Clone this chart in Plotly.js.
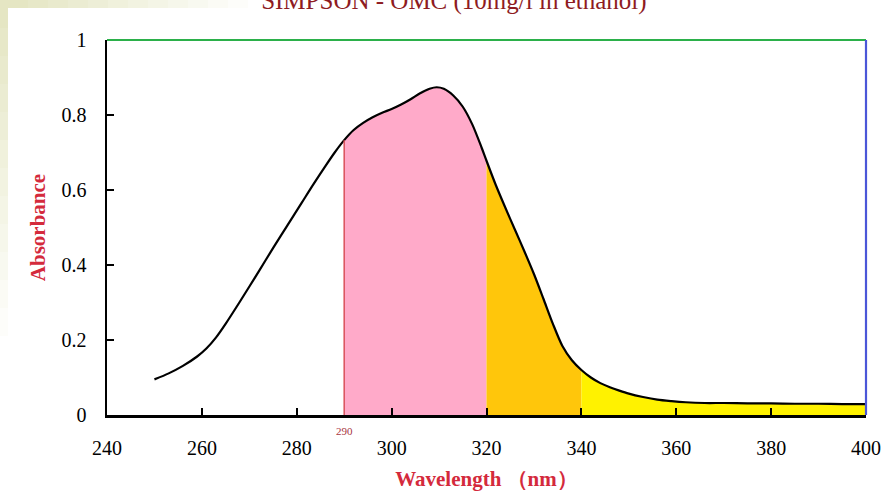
<!DOCTYPE html>
<html>
<head>
<meta charset="utf-8">
<script src="https://cdn.plot.ly/plotly-3.0.1.min.js"></script>
<style>html,body{margin:0;padding:0;background:#fff;}#chart{width:889px;height:491px;}</style>
</head>
<body>
<div id="chart"></div>
<script>
// Data
const wavelength = [250,253,256,259,261,263,265,268,272,275,278,281,283.5,286,288,290,292,294,296,298,300,302,304,306,308,309.5,311,313,315,317,319,320,322,324,326,328,330,332,334,336,338,340,342,344,346,348,350,353,356,359,362,366,370,375,380,385,390,395,400];
const absorbance = [0.095,0.111,0.131,0.156,0.178,0.207,0.243,0.302,0.383,0.445,0.505,0.565,0.615,0.663,0.7,0.733,0.76,0.779,0.794,0.806,0.816,0.828,0.842,0.858,0.87,0.874,0.87,0.852,0.822,0.775,0.712,0.678,0.612,0.552,0.494,0.436,0.376,0.31,0.243,0.184,0.146,0.12,0.1,0.085,0.074,0.065,0.057,0.048,0.041,0.037,0.034,0.032,0.032,0.031,0.031,0.03,0.03,0.029,0.029];
const bands = [
  {from: 290, to: 320, color: '#FFAAC9'},
  {from: 320, to: 340, color: '#FFC60B'},
  {from: 340, to: 400, color: '#FFF200'}
];
const xTicks = [240,260,280,300,320,340,360,380,400];
const yTicks = [0,0.2,0.4,0.6,0.8,1];
const yTickText = ['0','0.2','0.4','0.6','0.8','1'];
const titleText = 'SIMPSON - OMC (10mg/l in ethanol)';
const xTitle = 'Wavelength （nm）';
const yTitle = 'Absorbance';
const markerLabel = '290';

function subset(lo, hi) {
  const xs = [], ys = [];
  wavelength.forEach((w, i) => { if (w >= lo && w <= hi) { xs.push(w); ys.push(absorbance[i]); } });
  return {xs, ys};
}

const traces = bands.map(b => {
  const s = subset(b.from, b.to);
  return {x: s.xs, y: s.ys, type: 'scatter', mode: 'lines', fill: 'tozeroy',
          fillcolor: b.color, line: {width: 0, shape: 'spline', smoothing: 0.8, color: b.color}, hoverinfo: 'skip'};
});
traces.push({x: wavelength, y: absorbance, type: 'scatter', mode: 'lines',
             line: {color: '#000', width: 2.2, shape: 'spline', smoothing: 0.8}});

// pixel->paper helpers for the faint slide background band
const L = 107, R = 866, T = 40, B = 415;
const px = p => (p - L) / (R - L);
const py = p => (B - p) / (B - T);
const shapes = [];
const steps = 12;
for (let i = 0; i < steps; i++) {
  const op = 0.8 * (1 - i / steps);
  shapes.push({type: 'rect', xref: 'paper', yref: 'paper', layer: 'below',
    x0: px(0), x1: px(8), y0: py(i * 28), y1: py((i + 1) * 28),
    fillcolor: 'rgba(222,224,180,' + op + ')', line: {width: 0}});
  shapes.push({type: 'rect', xref: 'paper', yref: 'paper', layer: 'below',
    x0: px(8 + i * 20), x1: px(8 + (i + 1) * 20), y0: py(8), y1: py(0),
    fillcolor: 'rgba(222,224,180,' + op + ')', line: {width: 0}});
}
// top (green) and right (blue) frame lines
shapes.push({type: 'line', xref: 'paper', yref: 'paper', x0: 0, x1: 1, y0: 1, y1: 1, line: {color: '#2BB04A', width: 2.2}});
shapes.push({type: 'line', xref: 'paper', yref: 'paper', x0: 1, x1: 1, y0: 0, y1: 1, line: {color: '#4A56D8', width: 2.2}});
// red marker line at 290 nm
shapes.push({type: 'line', xref: 'x', yref: 'y', x0: 290, x1: 290, y0: 0,
  y1: absorbance[wavelength.indexOf(290)], line: {color: '#D9505A', width: 1.5}});

const serif = 'Liberation Serif, Times New Roman, serif';
const layout = {
  width: 889, height: 491,
  margin: {l: L, r: 889 - R, t: T, b: 491 - B, pad: 0},
  paper_bgcolor: '#fff', plot_bgcolor: '#fff',
  showlegend: false,
  title: {text: titleText, font: {family: serif, size: 25, color: '#8E1B22'},
          xref: 'paper', x: 0.457, xanchor: 'center', yref: 'container', y: 1, yanchor: 'middle'},
  xaxis: {range: [240, 400], tickvals: xTicks, ticktext: xTicks.map(String),
          showline: true, linecolor: '#000', linewidth: 2.5, ticks: 'inside', ticklen: 7, tickwidth: 2,
          tickcolor: '#000', showgrid: false, zeroline: false, ticklabelstandoff: 13,
          tickfont: {family: serif, size: 20, color: '#000'},
          title: {text: xTitle, standoff: 14, font: {family: serif, size: 21, color: '#D42A3C', weight: 'bold'}}},
  yaxis: {range: [0, 1], tickvals: yTicks, ticktext: yTickText,
          showline: true, linecolor: '#000', linewidth: 2.5, ticks: 'inside', ticklen: 7, tickwidth: 2,
          tickcolor: '#000', showgrid: false, zeroline: false, ticklabelstandoff: 14,
          tickfont: {family: serif, size: 20, color: '#000'},
          title: {text: yTitle, standoff: 10, font: {family: serif, size: 21, color: '#D42A3C', weight: 'bold'}}},
  shapes: shapes,
  annotations: [{x: 290, y: 0, xref: 'x', yref: 'y', text: markerLabel, showarrow: false,
                 yanchor: 'top', yshift: -8, font: {family: serif, size: 11, color: '#A8343E'}}]
};
Plotly.newPlot('chart', traces, layout, {displayModeBar: false, staticPlot: true});
</script>
</body>
</html>
